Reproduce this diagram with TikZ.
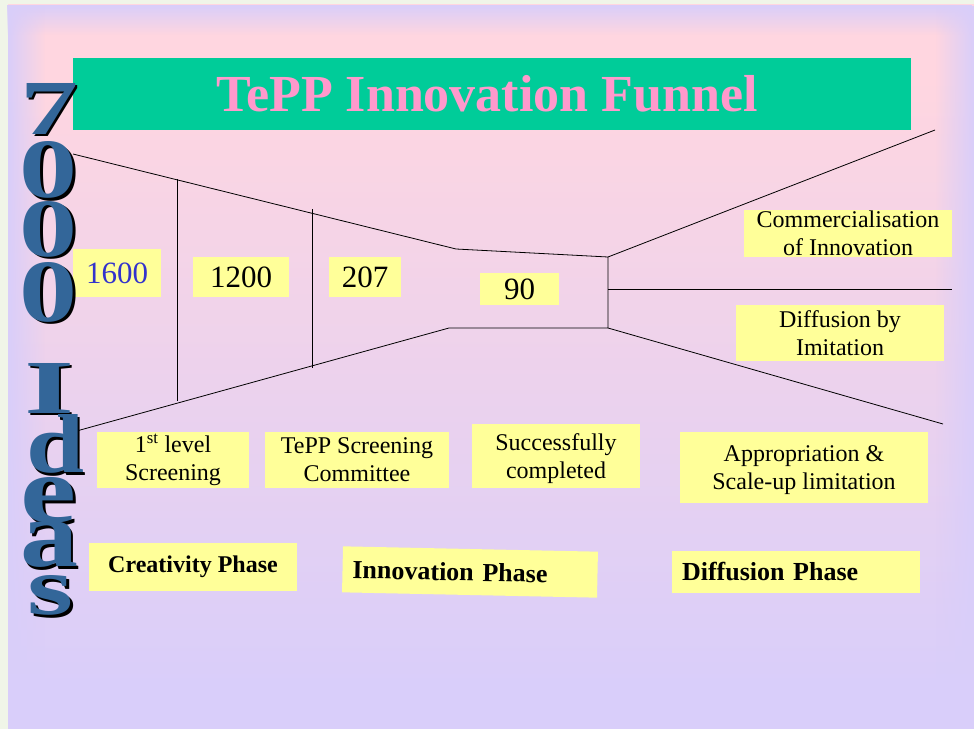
\documentclass[tikz,border=0pt]{standalone}
\usepackage{fontspec}
\setmainfont{Liberation Serif}
\usepackage{graphicx}
\usetikzlibrary{fadings}
\definecolor{pinkbg}{RGB}{255,214,224}
\definecolor{lavbg}{RGB}{217,206,250}
\definecolor{outerbg}{RGB}{240,245,232}
\definecolor{boxyellow}{RGB}{255,255,153}
\definecolor{titlegreen}{RGB}{0,204,153}
\definecolor{titlepink}{RGB}{255,153,204}
\definecolor{ideablue}{RGB}{51,102,153}
\definecolor{countblue}{RGB}{51,51,204}
\pgfdeclareverticalshading{slideshade}{100bp}{color(0bp)=(lavbg); color(28bp)=(lavbg); color(70bp)=(pinkbg); color(100bp)=(pinkbg)}
\begin{document}
\begin{tikzpicture}
	[x=1bp, y=-1bp,
	funnel/.style={line width=0.8bp},
	yellowbox/.style={fill=boxyellow, inner sep=0pt},
	numbox/.style={yellowbox, font=\fontsize{31bp}{31bp}\selectfont},
	labelbox/.style={yellowbox, align=center, font=\fontsize{24bp}{28bp}\selectfont},
	phasebox/.style={yellowbox, font=\fontsize{26bp}{30bp}\selectfont\bfseries},
	letter/.style={inner sep=0pt, font=\bfseries}]
	% slide background
	\fill[outerbg] (0,0) rectangle (974,729);
	\shade[shading=slideshade] (8,5) rectangle (974,729);
	\fill[lavbg, path fading=south] (8,5) rectangle (974,35);
	\fill[lavbg, path fading=east] (8,5) rectangle (45,729);
	\fill[lavbg, path fading=west] (935,5) rectangle (974,729);
	% title
	\node[fill=titlegreen, minimum width=838bp, minimum height=72bp, inner sep=0pt,
		text=titlepink, font=\fontsize{52bp}{52bp}\selectfont\bfseries] (title) at (492,94) {TePP Innovation Funnel\hspace*{10bp}};
	% funnel
	\coordinate (topleft) at (73,154);
	\coordinate (topmid) at (456,249);
	\coordinate (topright) at (608,257);
	\coordinate (botright) at (608,328);
	\coordinate (botmid) at (449,328);
	\coordinate (botleft) at (73,432);
	\coordinate (midright) at (608,289);
	\coordinate (outtop) at (935,130);
	\coordinate (outmid) at (952,289);
	\coordinate (outbot) at (943,424);
	\draw[funnel] (topleft) -- (topmid) -- (topright) -- (botright) -- (botmid) -- (botleft);
	\draw[funnel] (topright) -- (outtop);
	\draw[funnel] (midright) -- (outmid);
	\draw[funnel] (botright) -- (outbot);
	\coordinate (cut1top) at (177.5,179);
	\coordinate (cut1bot) at (177.5,401);
	\coordinate (cut2top) at (312.5,209);
	\coordinate (cut2bot) at (312.5,368);
	\draw[funnel] (cut1top) -- (cut1bot);
	\draw[funnel] (cut2top) -- (cut2bot);
	% counts
	\node[numbox, text=countblue, minimum width=88bp, minimum height=48bp] (ideas1600) at (117,273) {1600};
	\node[numbox, minimum width=96bp, minimum height=40bp] (ideas1200) at (241,277) {1200};
	\node[numbox, minimum width=72bp, minimum height=40bp] (ideas207) at (365,277) {207};
	\node[numbox, minimum width=79bp, minimum height=32bp] (ideas90) at (519.5,289) {90};
	% labels
	\node[labelbox, minimum width=208bp, minimum height=47bp] (commercial) at (848,233.5) {Commercialisation\\of Innovation};
	\node[labelbox, minimum width=208bp, minimum height=56bp] (imitation) at (840,333) {Diffusion by\\Imitation};
	\node[labelbox, minimum width=152bp, minimum height=56bp] (firstlevel) at (173,460) {1\textsuperscript{st} level\\Screening};
	\node[labelbox, minimum width=184bp, minimum height=56bp] (committee) at (357,460) {TePP Screening\\Committee};
	\node[labelbox, minimum width=168bp, minimum height=64bp, text depth=-2bp] (success) at (556,456) {Successfully\\completed};
	\node[labelbox, minimum width=248bp, minimum height=71bp, text depth=-2bp] (approp) at (804,467.5) {Appropriation \&\\Scale-up limitation};
	% phases
	\node[phasebox, font=\fontsize{24bp}{28bp}\selectfont\bfseries, minimum width=208bp, minimum height=48bp] (creativity) at (193,567) {Creativity Phase};
	\node[phasebox, minimum width=255bp, minimum height=46bp, text width=235bp, align=left, rotate=-1.2] (innovation) at (470,572) {Innovation Phase};
	\node[phasebox, minimum width=248bp, minimum height=42bp, text width=228bp, align=left] (diffusion) at (796,572) {Diffusion Phase};
	% 7000 Ideas
	\foreach \ch/\cx/\cy/\w/\h [count=\i] in {7/49/108.5/58/51, 0/48.5/170/58/56, 0/48.5/229/58/55,
		0/48.5/292/58/59, I/49.5/388/50/50, d/55.5/444/58/58, e/49/500.5/56/45, a/49/544.5/58/45, s/51/595.5/46/39}
	{
		\node[letter, text=black] (shadow\i) at (\cx+2.5,\cy+2.5) {\resizebox{\w bp}{\h bp}{\ch}};
		\node[letter, text=ideablue] (idea\i) at (\cx,\cy) {\resizebox{\w bp}{\h bp}{\ch}};
	}
\end{tikzpicture}
\end{document}
